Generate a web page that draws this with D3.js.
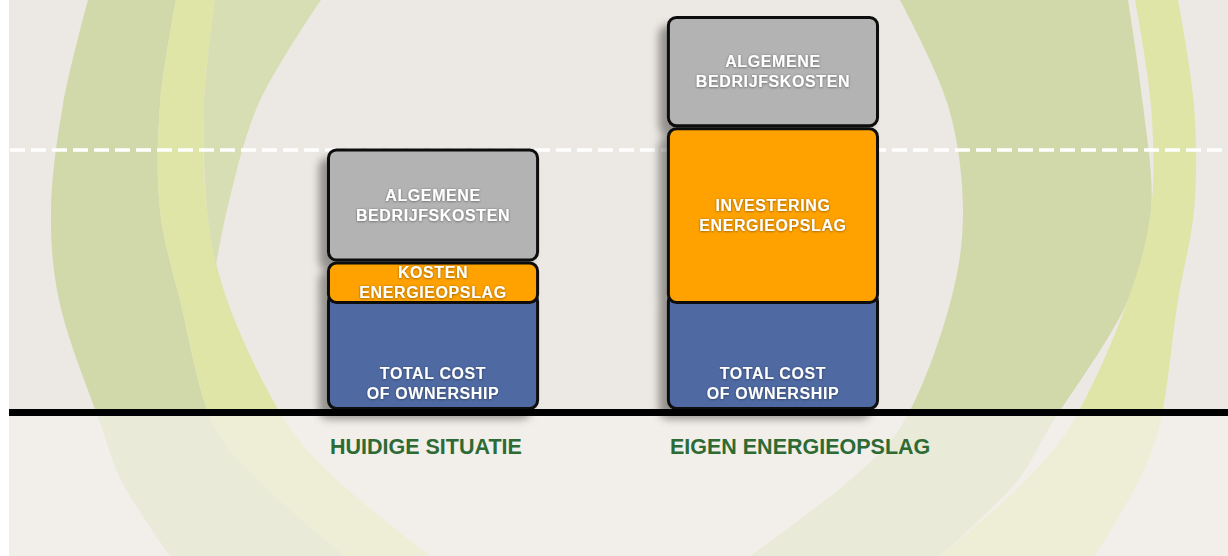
<!DOCTYPE html>
<html>
<head>
<meta charset="utf-8">
<script src="https://cdn.jsdelivr.net/npm/d3@7"></script>
<style>
  html, body { margin: 0; padding: 0; background: #fff; }
  svg { display: block; }
  text { font-family: "Liberation Sans", Arial, sans-serif; font-weight: bold; }
</style>
</head>
<body>
<div id="chart"></div>
<script>
// chart data
const categories = ["HUIDIGE SITUATIE", "EIGEN ENERGIEOPSLAG"];
const segmentKeys = ["tco", "energie", "algemeen"];
const tcoValues = [30, 30];
const energieValues = [12, 50];
const algemeenValues = [32, 31.5];
const segmentLabels = {
    tco: [["TOTAL COST", "OF OWNERSHIP"], ["TOTAL COST", "OF OWNERSHIP"]],
    energie: [["KOSTEN", "ENERGIEOPSLAG"], ["INVESTERING", "ENERGIEOPSLAG"]],
    algemeen: [["ALGEMENE", "BEDRIJFSKOSTEN"], ["ALGEMENE", "BEDRIJFSKOSTEN"]]
};
const segmentColors = { tco: "#506ba3", energie: "#ffa200", algemeen: "#b3b3b3" };

// background swooshes (decoration only)
const leftGreen = [{y: 0, a: 88, b: 176}, {y: 105, a: 63, b: 160}, {y: 210, a: 51, b: 160}, {y: 300, a: 59, b: 180},
    {y: 428, a: 102, b: 215}, {y: 480, a: 121, b: 258}, {y: 556, a: 170, b: 345}];
const leftYellow = [{y: 0, a: 176, b: 215}, {y: 105, a: 160, b: 204}, {y: 210, a: 160, b: 207}, {y: 300, a: 180, b: 227},
    {y: 428, a: 215, b: 290}, {y: 480, a: 258, b: 337}, {y: 556, a: 345, b: 430}];
const leftLight = [{y: 0, a: 215, b: 321}, {y: 105, a: 204, b: 258}, {y: 210, a: 207, b: 227}, {y: 265, a: 216, b: 216}];
const rightGreen = [{y: 0, a: 900, b: 1128}, {y: 105, a: 948, b: 1143}, {y: 210, a: 963, b: 1151}, {y: 300, a: 951, b: 1128},
    {y: 428, a: 900, b: 1049}, {y: 480, a: 850, b: 1018}, {y: 556, a: 750, b: 940}];
const rightYellow = [{y: 0, a: 1135, b: 1178}, {y: 105, a: 1151, b: 1194}, {y: 210, a: 1151, b: 1194}, {y: 300, a: 1128, b: 1178},
    {y: 428, a: 1069, b: 1159}, {y: 480, a: 1026, b: 1139}, {y: 556, a: 940, b: 1095}];

const width = 1228, height = 556;
const baseY = 410;

const svg = d3.select("#chart").append("svg")
    .attr("width", width)
    .attr("height", height);

const defs = svg.append("defs");
const shadow = defs.append("filter").attr("id", "barShadow")
    .attr("x", "-20%").attr("y", "-20%").attr("width", "140%").attr("height", "140%");
shadow.append("feDropShadow")
    .attr("dx", -8).attr("dy", 9).attr("stdDeviation", 4)
    .attr("flood-color", "#000").attr("flood-opacity", 0.38);
const textShadow = defs.append("filter").attr("id", "textShadow");
textShadow.append("feDropShadow")
    .attr("dx", 0).attr("dy", 0.5).attr("stdDeviation", 1.2)
    .attr("flood-color", "#000").attr("flood-opacity", 0.5);

// background
svg.append("rect").attr("x", 9).attr("y", 0).attr("width", width - 9).attr("height", height).attr("fill", "#ece8e3");

const bandArea = d3.area()
    .y(d => d.y)
    .x0(d => d.a)
    .x1(d => d.b)
    .curve(d3.curveCatmullRom.alpha(0.5));

const bands = [
    [leftGreen, "#d1d8a9"], [leftYellow, "#dfe5a6"], [leftLight, "#d8deb3"],
    [rightGreen, "#d1d8a9"], [rightYellow, "#dfe5a6"]
];
svg.append("g").selectAll("path")
    .data(bands)
    .enter().append("path")
    .attr("d", d => bandArea(d[0]))
    .attr("fill", d => d[1]);

// lighter below the axis
svg.append("rect").attr("x", 9).attr("y", baseY + 4).attr("width", width - 9).attr("height", height - baseY)
    .attr("fill", "#f4f2ee").attr("opacity", 0.68);

// scales
const x = d3.scaleBand()
    .domain(categories)
    .range([157, 1049])
    .paddingInner(0.376)
    .paddingOuter(0.5);

const y = d3.scaleLinear()
    .domain([0, 116])
    .range([baseY, 0]);

const table = categories.map((c, i) => ({
    category: c, index: i,
    tco: tcoValues[i], energie: energieValues[i], algemeen: algemeenValues[i]
}));
const series = d3.stack().keys(segmentKeys)(table);

// dashed reference at the current total
const refTotal = tcoValues[0] + energieValues[0] + algemeenValues[0];
svg.append("line")
    .attr("x1", 10).attr("x2", width)
    .attr("y1", y(refTotal) + 1.5).attr("y2", y(refTotal) + 1.5)
    .attr("stroke", "#fff")
    .attr("stroke-width", 3.5)
    .attr("stroke-dasharray", "15 6");

// bars
const barGroups = svg.append("g").selectAll("g")
    .data(categories)
    .enter().append("g")
    .attr("filter", "url(#barShadow)");

barGroups.each(function(cat, i) {
    const g = d3.select(this);
    series.forEach(s => {
        const d = s[i];
        // the foot segment runs on up behind the one above it
        const extend = s.key === "tco" ? 12 : 0;
        const top = y(d[1]) - extend, bottom = y(d[0]);
        g.append("rect")
            .attr("x", x(cat) + 1.5)
            .attr("y", top + 1.5)
            .attr("width", x.bandwidth() - 3)
            .attr("height", bottom - top - 3)
            .attr("rx", 8)
            .attr("fill", segmentColors[s.key])
            .attr("stroke", "#0d0d0d")
            .attr("stroke-width", 3);
    });
});

// segment labels
const labelGroup = svg.append("g").attr("filter", "url(#textShadow)");
series.forEach(s => {
    s.forEach((d, i) => {
        const top = y(d[1]), bottom = y(d[0]);
        const lines = segmentLabels[s.key][i];
        // bottom segment is labelled near its foot, the rest centred
        const firstBase = s.key === "tco" ? bottom - 31 : (top + bottom) / 2 - 4.5;
        const t = labelGroup.append("text")
            .attr("text-anchor", "middle")
            .attr("fill", "#fff")
            .attr("font-size", 16)
            .attr("letter-spacing", 0.6);
        lines.forEach((ln, k) => {
            t.append("tspan")
                .attr("x", x(categories[i]) + x.bandwidth() / 2)
                .attr("y", firstBase + k * 20)
                .text(ln);
        });
    });
});

// axis line
svg.append("line")
    .attr("x1", 9).attr("x2", width)
    .attr("y1", baseY + 2.5).attr("y2", baseY + 2.5)
    .attr("stroke", "#000")
    .attr("stroke-width", 7);

// category labels
svg.append("g").selectAll("text")
    .data(categories)
    .enter().append("text")
    .attr("x", d => x(d) + 3)
    .attr("y", 454)
    .attr("fill", "#2d6a34")
    .attr("font-size", 21.5)
    .text(d => d);
</script>
</body>
</html>
